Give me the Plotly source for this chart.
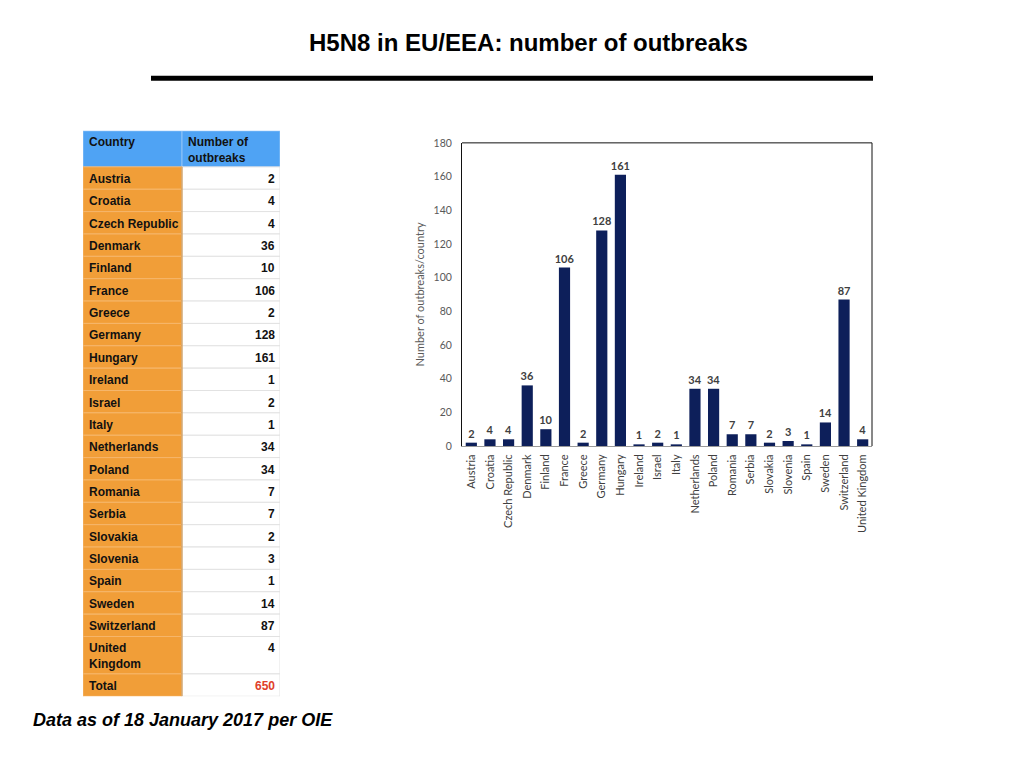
import plotly.graph_objects as go
import numpy as np

# ---- data ----
table_header = ["Country", "Number of<br>outbreaks"]
table_countries = ["Austria", "Croatia", "Czech Republic", "Denmark", "Finland", "France",
                   "Greece", "Germany", "Hungary", "Ireland", "Israel", "Italy", "Netherlands",
                   "Poland", "Romania", "Serbia", "Slovakia", "Slovenia", "Spain", "Sweden",
                   "Switzerland", "United<br>Kingdom", "Total"]
table_values = [2, 4, 4, 36, 10, 106, 2, 128, 161, 1, 2, 1, 34, 34, 7, 7, 2, 3, 1, 14, 87, 4, 650]

chart_countries = ["Austria", "Croatia", "Czech Republic", "Denmark", "Finland", "France",
                   "Greece", "Germany", "Hungary", "Ireland", "Israel", "Italy", "Netherlands",
                   "Poland", "Romania", "Serbia", "Slovakia", "Slovenia", "Spain", "Sweden",
                   "Switzerland", "United Kingdom"]
chart_values = [2, 4, 4, 36, 10, 106, 2, 128, 161, 1, 2, 1, 34, 34, 7, 7, 2, 3, 1, 14, 87, 4]

y_ticks = [0, 20, 40, 60, 80, 100, 120, 140, 160, 180]

# ---- page geometry ----
W, H = 1008, 752
OFF_X = 8
OFF_Y, SCALE_Y = 14.2, 0.9835   # observed vertical placement of the figure in the page
def px_x(x):
    return (x - OFF_X) / W
def px_y(y):
    return 1 - ((y - OFF_Y) / SCALE_Y) / H

ORANGE = "#F19E38"
BLUE = "#4FA3F4"
NAVY = "#0D1F5A"
FONT_T = "Liberation Sans"
FONT_C = "Lato"

# table geometry (pixel units on hidden axes)
TBL_LEFT, TBL_TOP = 83, 131
col_w = [99, 98]
head_h = 36
row_h = [22.35] * 21 + [37.4, 22.35]
tbl_h = head_h + sum(row_h)
tbl_w = sum(col_w)
col_edges = np.concatenate([[0], np.cumsum(col_w)])
row_tops = np.concatenate([[head_h], head_h + np.cumsum(row_h)[:-1]])
row_bots = head_h + np.cumsum(row_h)

shapes = []
annotations = []

# header cells
for j in range(2):
    shapes.append(dict(type="rect", xref="x2", yref="y2",
                       x0=col_edges[j], x1=col_edges[j + 1], y0=0, y1=head_h,
                       fillcolor=BLUE, line=dict(color="#8fc3f7", width=1), layer="below"))
    annotations.append(dict(text="<b>%s</b>" % table_header[j], xref="x2", yref="y2",
                            x=col_edges[j] + 4, y=2, xanchor="left", yanchor="top",
                            align="left", showarrow=False,
                            font=dict(family=FONT_T, size=12, color="#111111")))

# body cells
for i, (c, v) in enumerate(zip(table_countries, table_values)):
    y0, y1 = row_tops[i], row_bots[i]
    shapes.append(dict(type="rect", xref="x2", yref="y2",
                       x0=col_edges[0], x1=col_edges[1], y0=y0, y1=y1,
                       fillcolor=ORANGE, line=dict(color="#f6b66a", width=1), layer="below"))
    shapes.append(dict(type="rect", xref="x2", yref="y2",
                       x0=col_edges[1], x1=col_edges[2], y0=y0, y1=y1,
                       fillcolor="white", line=dict(color="#e2e2e2", width=1), layer="below"))
    annotations.append(dict(text="<b>%s</b>" % c, xref="x2", yref="y2",
                            x=col_edges[0] + 4, y=y0 + 3, xanchor="left", yanchor="top",
                            align="left", showarrow=False,
                            font=dict(family=FONT_T, size=12, color="#111111")))
    is_total = (i == len(table_countries) - 1)
    annotations.append(dict(text="<b>%d</b>" % v, xref="x2", yref="y2",
                            x=col_edges[2] - 3, y=y0 + 3, xanchor="right", yanchor="top",
                            align="right", showarrow=False,
                            font=dict(family=FONT_T, size=12,
                                      color="#E0402A" if is_total else "#111111")))

# column divider
shapes.append(dict(type="line", xref="x2", yref="y2", x0=col_edges[1], x1=col_edges[1],
                   y0=head_h, y1=tbl_h, line=dict(color="#c98a3c", width=1)))

fig = go.Figure()

fig.add_trace(go.Bar(
    x=chart_countries, y=chart_values,
    marker=dict(color=NAVY, line=dict(width=0)),
    text=["<b>%d</b>" % v for v in chart_values],
    textposition="outside",
    constraintext="none",
    cliponaxis=False,
    textfont=dict(family=FONT_C, size=11, color="#404040"),
    xaxis="x", yaxis="y",
    hoverinfo="x+y",
))
# invisible trace to activate hidden table axes
fig.add_trace(go.Scatter(x=[0], y=[0], mode="markers", marker=dict(opacity=0),
                         xaxis="x2", yaxis="y2", hoverinfo="skip", showlegend=False))

# frame top/right of the chart
shapes.append(dict(type="line", xref="x domain", yref="y domain", x0=0, x1=1, y0=1, y1=1,
                   line=dict(color="#111111", width=1)))
shapes.append(dict(type="line", xref="x domain", yref="y domain", x0=1, x1=1, y0=0, y1=1,
                   line=dict(color="#111111", width=1)))
# title rule
shapes.append(dict(type="line", xref="paper", yref="paper",
                   x0=px_x(151), x1=px_x(873), y0=px_y(78.5), y1=px_y(78.5),
                   line=dict(color="black", width=5)))

annotations += [
    dict(text="<b>H5N8 in EU/EEA: number of outbreaks</b>", xref="paper", yref="paper",
         x=px_x(528), y=px_y(43), xanchor="center", yanchor="middle", showarrow=False,
         font=dict(family=FONT_T, size=24, color="black")),
    dict(text="<b><i>Data as of 18 January 2017 per OIE</i></b>", xref="paper", yref="paper",
         x=px_x(31), y=px_y(720), xanchor="left", yanchor="middle", showarrow=False,
         font=dict(family=FONT_T, size=18, color="black")),
]

fig.update_layout(
    width=W, height=H,
    margin=dict(l=0, r=0, t=0, b=0),
    paper_bgcolor="white", plot_bgcolor="white",
    showlegend=False,
    bargap=0.4,
    xaxis=dict(
        domain=[px_x(462), px_x(872)],
        anchor="y",
        tickangle=-90,
        tickfont=dict(family=FONT_C, size=11, color="#404040"),
        showline=True, linecolor="#9a9a9a", linewidth=1,
        ticks="", showgrid=False, ticklabelstandoff=3,
    ),
    yaxis=dict(
        domain=[px_y(446), px_y(143)],
        anchor="x",
        range=[0, 180],
        tickvals=y_ticks,
        tickfont=dict(family=FONT_C, size=10.5, color="#595959"),
        title=dict(text="Number of outbreaks/country",
                   font=dict(family=FONT_C, size=11, color="#595959"), standoff=6),
        showline=True, linecolor="#111111", linewidth=1,
        ticks="", showgrid=False, zeroline=False, ticklabelstandoff=7,
    ),
    xaxis2=dict(domain=[px_x(TBL_LEFT), px_x(TBL_LEFT + tbl_w)], anchor="y2",
                range=[0, tbl_w], visible=False, fixedrange=True),
    yaxis2=dict(domain=[px_y(TBL_TOP + tbl_h), px_y(TBL_TOP)], anchor="x2",
                range=[tbl_h, 0], visible=False, fixedrange=True),
    shapes=shapes,
    annotations=annotations,
)

fig.write_html("out.html")
